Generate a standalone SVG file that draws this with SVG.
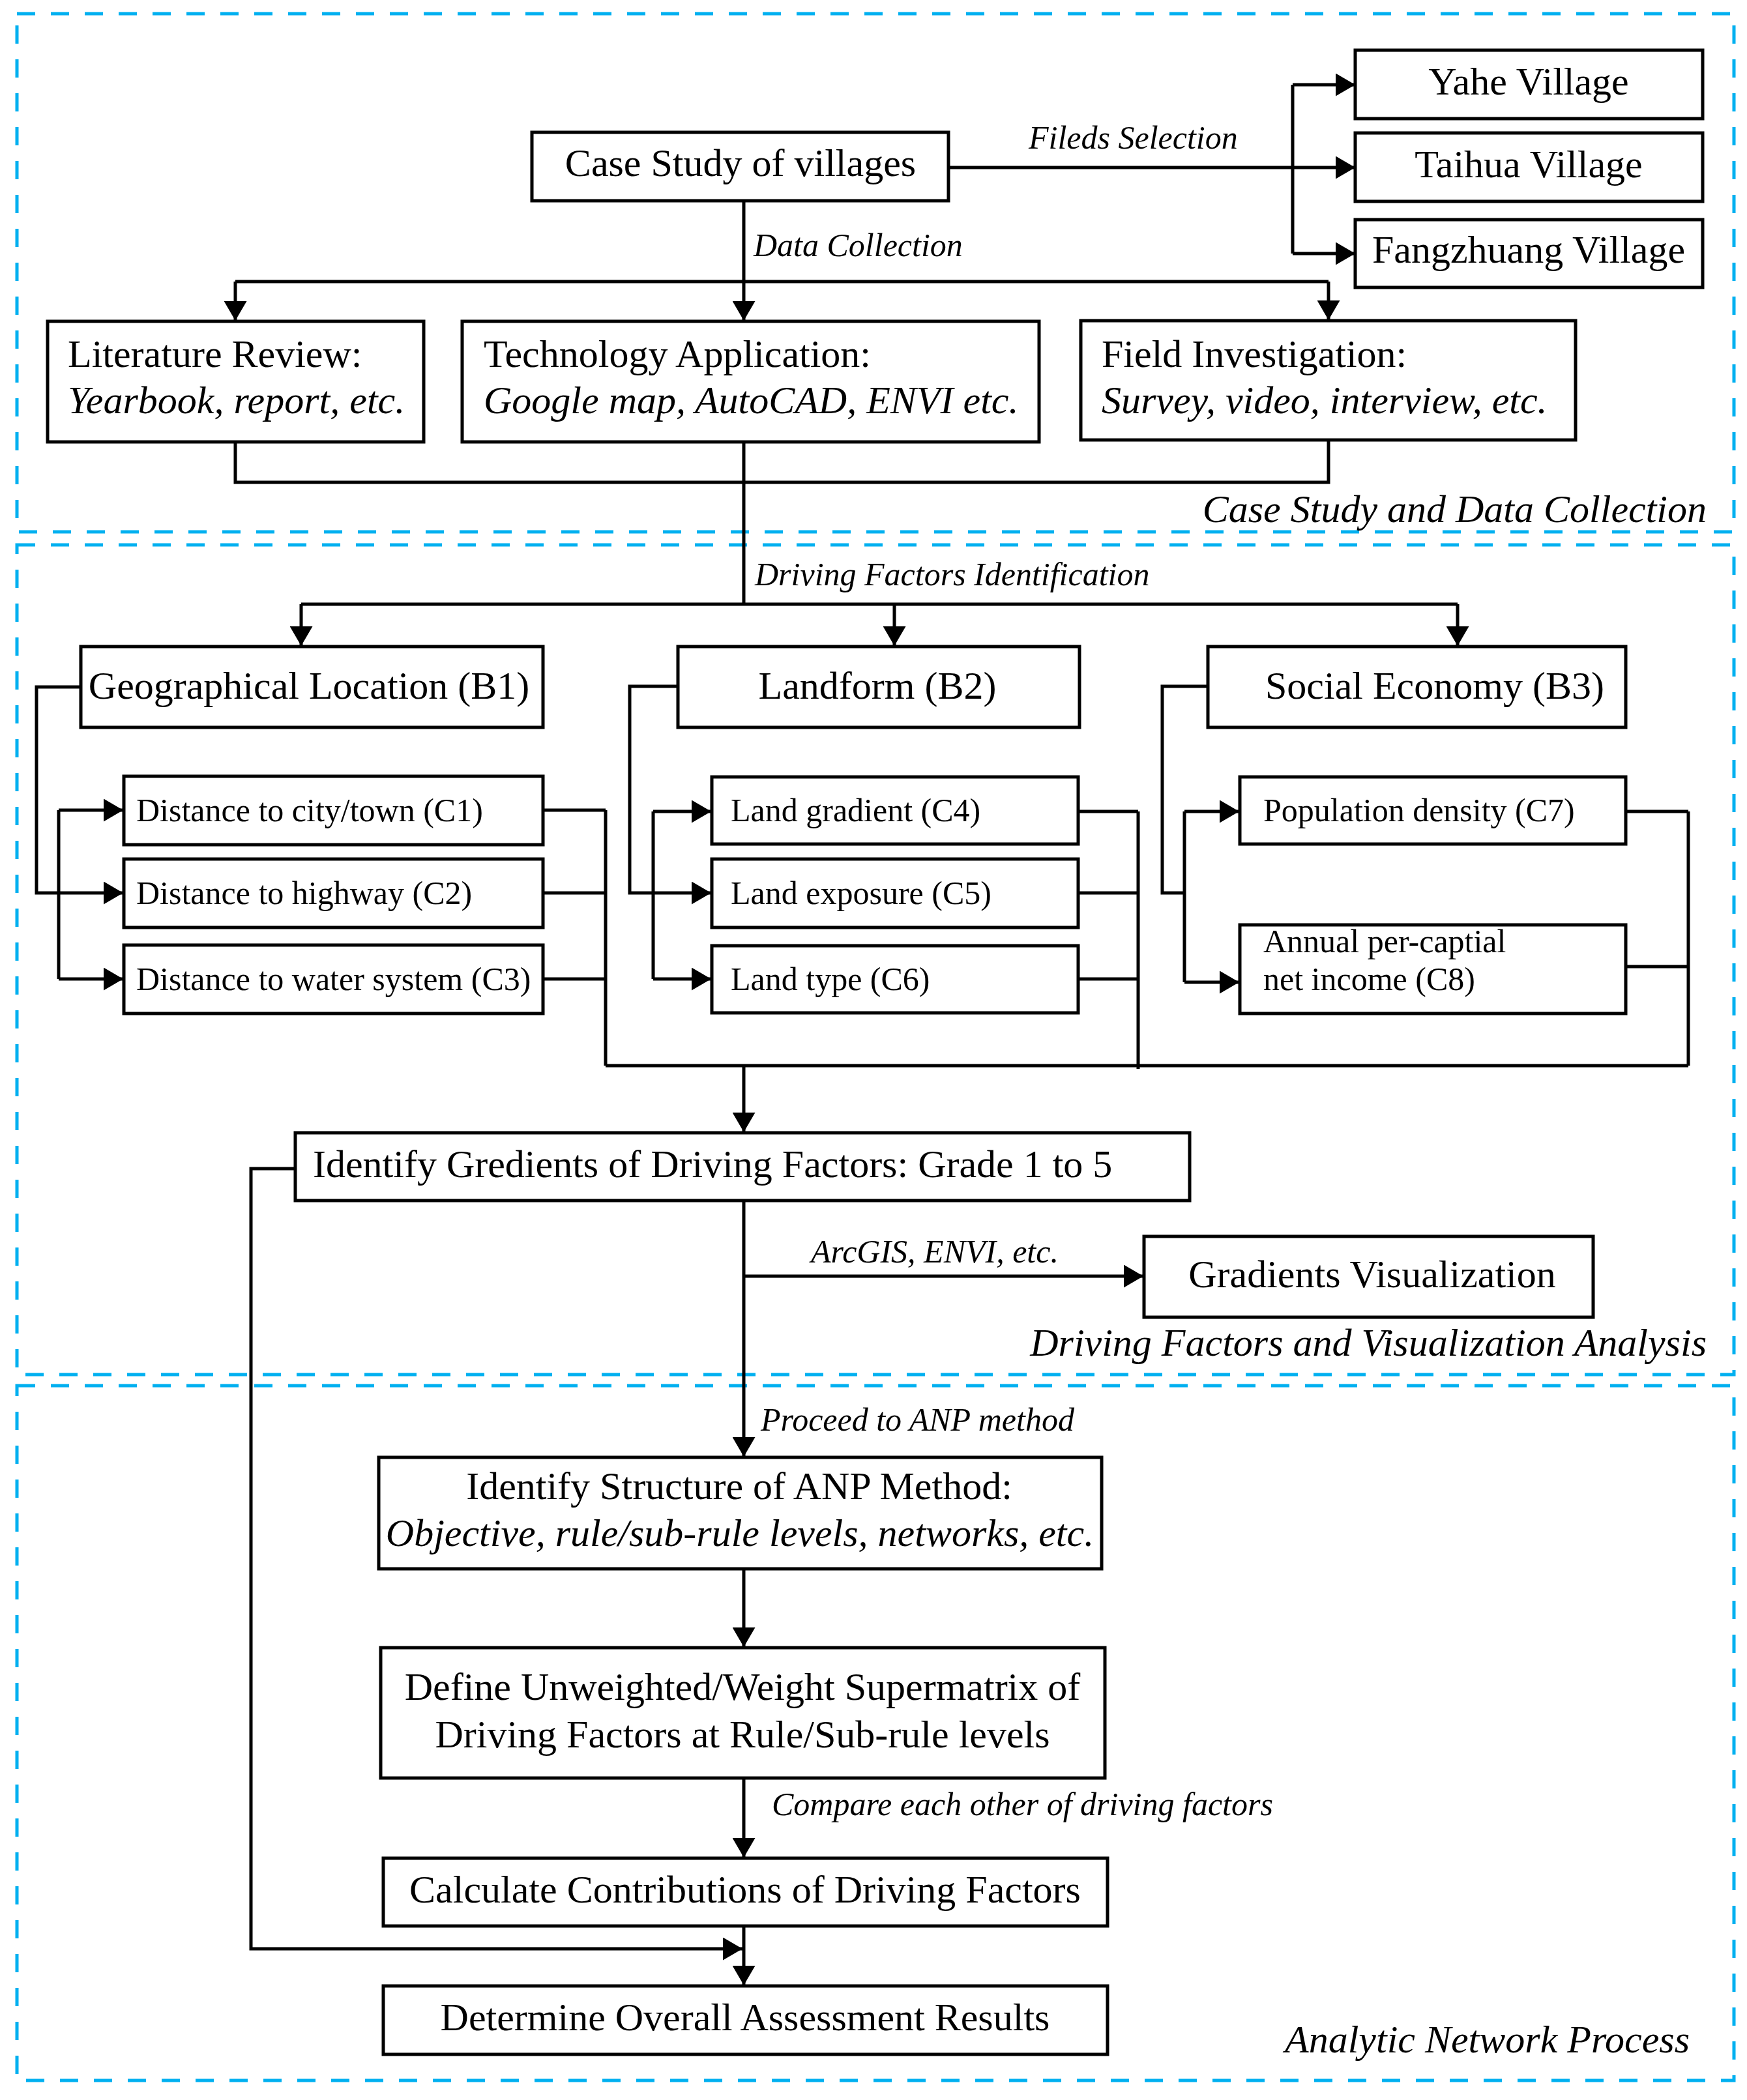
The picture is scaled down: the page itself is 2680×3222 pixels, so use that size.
<svg xmlns="http://www.w3.org/2000/svg" width="2680" height="3222" viewBox="0 0 2680 3222">
<style>
.sec{fill:none;stroke:#00B0F0;stroke-width:5;stroke-dasharray:28 24}
.box{fill:#fff;stroke:#000;stroke-width:5}
.c{fill:none;stroke:#000;stroke-width:5}
.a{marker-end:url(#ah)}
text{font-family:"Liberation Serif","Times New Roman",serif;fill:#000}
.t60{font-size:60px}
.t50{font-size:50px}
.it{font-style:italic}
.mid{text-anchor:middle}
.end{text-anchor:end}
</style>
<defs>
<marker id="ah" viewBox="0 0 30 35" refX="30" refY="17.5" markerWidth="30" markerHeight="35" markerUnits="userSpaceOnUse" orient="auto">
<path d="M0,0 L30,17.5 L0,35 Z" fill="#000"/>
</marker>
</defs>
<rect width="2680" height="3222" fill="#fff"/>
<g id="sections">
<rect class="sec" x="26" y="21" width="2634" height="795"/>
<rect class="sec" x="26" y="836" width="2634" height="1273"/>
<rect class="sec" x="26" y="2126" width="2634" height="1066"/>
<text class="t60 it end" x="2618" y="801">Case Study and Data Collection</text>
<text class="t60 it end" x="2618" y="2080">Driving Factors and Visualization Analysis</text>
<text class="t60 it end" x="2592" y="3149">Analytic Network Process</text>
</g>
<g id="connectors">
<path class="c a" d="M1455,257 H2079"/>
<path class="c" d="M1983,130 V389"/>
<path class="c a" d="M1983,130 H2079"/>
<path class="c a" d="M1983,389 H2079"/>
<path class="c a" d="M1141,308 V492"/>
<path class="c" d="M361,432 H2038"/>
<path class="c a" d="M361,432 V492"/>
<path class="c a" d="M2038,432 V491"/>
<path class="c" d="M361,678 V740 H2038 V675"/>
<path class="c" d="M1141,678 V927"/>
<path class="c" d="M462,927 H2236"/>
<path class="c a" d="M462,927 V991"/>
<path class="c a" d="M1372,927 V991"/>
<path class="c a" d="M2236,927 V991"/>
<path class="c a" d="M124,1054 H56 V1370 H189"/>
<path class="c" d="M90,1243 V1502"/>
<path class="c a" d="M90,1243 H189"/>
<path class="c a" d="M90,1502 H189"/>
<path class="c a" d="M1040,1053 H966 V1370 H1091"/>
<path class="c" d="M1002,1245 V1502"/>
<path class="c a" d="M1002,1245 H1091"/>
<path class="c a" d="M1002,1502 H1091"/>
<path class="c" d="M1853,1053 H1783 V1370 H1817"/>
<path class="c" d="M1817,1245 V1507"/>
<path class="c a" d="M1817,1245 H1901"/>
<path class="c a" d="M1817,1507 H1901"/>
<path class="c" d="M833,1243 H929 M833,1370 H929 M833,1502 H929 M929,1243 V1635"/>
<path class="c" d="M1654,1245 H1746 M1654,1370 H1746 M1654,1502 H1746 M1746,1245 V1640"/>
<path class="c" d="M2494,1245 H2590 M2494,1483 H2590 M2590,1245 V1635"/>
<path class="c" d="M929,1635 H2590"/>
<path class="c a" d="M1141,1635 V1737"/>
<path class="c a" d="M1141,1842 V2235"/>
<path class="c a" d="M1141,1958 H1754"/>
<path class="c a" d="M453,1793 H385 V2990 H1139"/>
<path class="c a" d="M1141,2407 V2527"/>
<path class="c a" d="M1141,2728 V2850"/>
<path class="c a" d="M1141,2955 V3046"/>
<text class="t50 it" x="1578" y="228">Fileds Selection</text>
<text class="t50 it" x="1156" y="393">Data Collection</text>
<text class="t50 it" x="1158" y="898">Driving Factors Identification</text>
<text class="t50 it" x="1244" y="1937">ArcGIS, ENVI, etc.</text>
<text class="t50 it" x="1167" y="2195">Proceed to ANP method</text>
<text class="t50 it" x="1184" y="2785">Compare each other of driving factors</text>
</g>
<g id="case-study">
<rect class="box" x="816" y="203" width="639" height="105"/>
<text class="t60 mid" x="1136" y="270">Case Study of villages</text>
</g>
<g id="yahe">
<rect class="box" x="2079" y="77" width="533" height="105"/>
<text class="t60 mid" x="2345" y="145">Yahe Village</text>
</g>
<g id="taihua">
<rect class="box" x="2079" y="204" width="533" height="105"/>
<text class="t60 mid" x="2345" y="272">Taihua Village</text>
</g>
<g id="fangzhuang">
<rect class="box" x="2079" y="337" width="533" height="104"/>
<text class="t60 mid" x="2345" y="403">Fangzhuang Village</text>
</g>
<g id="literature">
<rect class="box" x="73" y="493" width="577" height="185"/>
<text class="t60" x="104" y="563">Literature Review:</text>
<text class="t60 it" x="104" y="634">Yearbook, report, etc.</text>
</g>
<g id="technology">
<rect class="box" x="709" y="493" width="885" height="185"/>
<text class="t60" x="742" y="563">Technology Application:</text>
<text class="t60 it" x="742" y="634">Google map, AutoCAD, ENVI etc.</text>
</g>
<g id="field">
<rect class="box" x="1658" y="492" width="759" height="183"/>
<text class="t60" x="1690" y="563">Field Investigation:</text>
<text class="t60 it" x="1690" y="634">Survey, video, interview, etc.</text>
</g>
<g id="b1">
<rect class="box" x="124" y="992" width="709" height="124"/>
<text class="t60 mid" x="474" y="1072">Geographical Location (B1)</text>
</g>
<g id="b2">
<rect class="box" x="1040" y="992" width="616" height="124"/>
<text class="t60 mid" x="1346" y="1072">Landform (B2)</text>
</g>
<g id="b3">
<rect class="box" x="1853" y="992" width="641" height="124"/>
<text class="t60" x="1941" y="1072">Social Economy (B3)</text>
</g>
<g id="c1">
<rect class="box" x="190" y="1191" width="643" height="105"/>
<text class="t50" x="209" y="1260">Distance to city/town (C1)</text>
</g>
<g id="c2">
<rect class="box" x="190" y="1318" width="643" height="105"/>
<text class="t50" x="209" y="1387">Distance to highway (C2)</text>
</g>
<g id="c3">
<rect class="box" x="190" y="1450" width="643" height="105"/>
<text class="t50" x="209" y="1519">Distance to water system (C3)</text>
</g>
<g id="c4">
<rect class="box" x="1092" y="1192" width="562" height="103"/>
<text class="t50" x="1121" y="1260">Land gradient (C4)</text>
</g>
<g id="c5">
<rect class="box" x="1092" y="1318" width="562" height="105"/>
<text class="t50" x="1121" y="1387">Land exposure (C5)</text>
</g>
<g id="c6">
<rect class="box" x="1092" y="1451" width="562" height="103"/>
<text class="t50" x="1121" y="1519">Land type (C6)</text>
</g>
<g id="c7">
<rect class="box" x="1902" y="1192" width="592" height="103"/>
<text class="t50" x="1938" y="1260">Population density (C7)</text>
</g>
<g id="c8">
<rect class="box" x="1902" y="1419" width="592" height="136"/>
<text class="t50" x="1938" y="1461">Annual per-captial</text>
<text class="t50" x="1938" y="1519">net income (C8)</text>
</g>
<g id="gradients">
<rect class="box" x="453" y="1738" width="1372" height="104"/>
<text class="t60" x="480" y="1806">Identify Gredients of Driving Factors: Grade 1 to 5</text>
</g>
<g id="visualization">
<rect class="box" x="1755" y="1897" width="689" height="124"/>
<text class="t60 mid" x="2105" y="1975">Gradients Visualization</text>
</g>
<g id="anp">
<rect class="box" x="581" y="2236" width="1109" height="171"/>
<text class="t60 mid" x="1134" y="2300">Identify Structure of ANP Method:</text>
<text class="t60 it mid" x="1135" y="2372">Objective, rule/sub-rule levels, networks, etc.</text>
</g>
<g id="define">
<rect class="box" x="584" y="2528" width="1111" height="200"/>
<text class="t60 mid" x="1139" y="2608">Define Unweighted/Weight Supermatrix of</text>
<text class="t60 mid" x="1139" y="2681">Driving Factors at Rule/Sub-rule levels</text>
</g>
<g id="calculate">
<rect class="box" x="588" y="2851" width="1111" height="104"/>
<text class="t60 mid" x="1143" y="2919">Calculate Contributions of Driving Factors</text>
</g>
<g id="determine">
<rect class="box" x="588" y="3047" width="1111" height="105"/>
<text class="t60 mid" x="1143" y="3115">Determine Overall Assessment Results</text>
</g>
</svg>
